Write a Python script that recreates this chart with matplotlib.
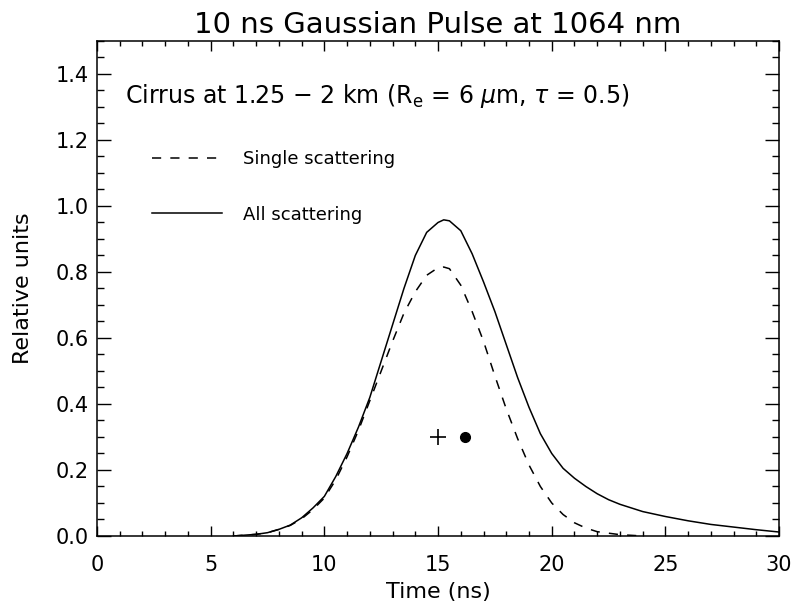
import matplotlib
matplotlib.use("Agg")
import matplotlib.pyplot as plt
from matplotlib.ticker import MultipleLocator, FormatStrFormatter

# values
time_all = [6.0, 7.0, 7.5, 8.0, 8.5, 9.0, 9.5, 10.0, 10.5, 11.0, 11.5, 12.0,
            12.5, 13.0, 13.5, 14.0, 14.5, 15.0, 15.25, 15.5, 16.0, 16.5, 17.0,
            17.5, 18.0, 18.5, 19.0, 19.5, 20.0, 20.5, 21.0, 21.5, 22.0, 22.5,
            23.0, 24.0, 25.0, 26.0, 27.0, 28.0, 29.0, 30.0]
all_scat = [0.0, 0.005, 0.01, 0.02, 0.033, 0.055, 0.085, 0.12, 0.18, 0.25,
            0.33, 0.42, 0.53, 0.64, 0.75, 0.85, 0.92, 0.95, 0.958, 0.955, 0.925,
            0.855, 0.77, 0.68, 0.58, 0.48, 0.39, 0.31, 0.25, 0.205, 0.175, 0.15,
            0.128, 0.11, 0.096, 0.074, 0.059, 0.046, 0.035, 0.027, 0.019, 0.012]

time_single = [6.0, 7.0, 7.5, 8.0, 8.5, 9.0, 9.5, 10.0, 10.5, 11.0, 11.5, 12.0,
               12.5, 13.0, 13.5, 14.0, 14.5, 15.0, 15.25, 15.5, 16.0, 16.5,
               17.0, 17.5, 18.0, 18.5, 19.0, 19.5, 20.0, 20.5, 21.0, 21.5, 22.0,
               23.0, 24.0]
single_scat = [0.0, 0.005, 0.01, 0.02, 0.032, 0.052, 0.08, 0.115, 0.17, 0.24,
               0.32, 0.41, 0.50, 0.59, 0.675, 0.74, 0.79, 0.813, 0.815, 0.81,
               0.76, 0.68, 0.59, 0.485, 0.385, 0.295, 0.215, 0.15, 0.10, 0.065,
               0.04, 0.024, 0.013, 0.004, 0.0]

cross_x, cross_y = [15.0], [0.3]
dot_x, dot_y = [16.2], [0.3]

title = "10 ns Gaussian Pulse at 1064 nm"
note = r"Cirrus at 1.25 $-$ 2 km (R$_{\rm e}$ = 6 $\mu$m, $\tau$ = 0.5)"

plt.rcParams["font.family"] = "DejaVu Sans"

fig = plt.figure(figsize=(7.95, 6.07), dpi=100)
ax = fig.add_axes([0.122, 0.117, 0.858, 0.8155])

ax.plot(time_single, single_scat, color="black", lw=1.1, dashes=(6, 6),
        label="Single scattering")
ax.plot(time_all, all_scat, color="black", lw=1.1, label="All scattering")
ax.plot(cross_x, cross_y, marker="+", ms=11, mew=1.2, color="black", ls="none")
ax.plot(dot_x, dot_y, marker="o", ms=7, color="black", ls="none")

ax.set_xlim(0, 30)
ax.set_ylim(0, 1.5)
ax.xaxis.set_major_locator(MultipleLocator(5))
ax.xaxis.set_minor_locator(MultipleLocator(1))
ax.yaxis.set_major_locator(MultipleLocator(0.2))
ax.yaxis.set_minor_locator(MultipleLocator(0.05))
ax.yaxis.set_major_formatter(FormatStrFormatter("%.1f"))

ax.tick_params(axis="both", which="both", direction="in", top=True, right=True,
               width=1.0, labelsize=15)
ax.tick_params(axis="x", which="major", length=7, pad=14)
ax.tick_params(axis="x", which="minor", length=3.6)
ax.tick_params(axis="y", which="major", length=10, pad=6)
ax.tick_params(axis="y", which="minor", length=5)
for s in ax.spines.values():
    s.set_linewidth(1.1)

ax.set_xlabel("Time (ns)", fontsize=16, labelpad=5)
ax.set_ylabel("Relative units", fontsize=16, labelpad=16)
ax.set_title(title, fontsize=21, pad=6)

ax.text(0.041, 0.889, note, transform=ax.transAxes, fontsize=17,
        va="center", ha="left")

ax.legend(loc="upper left", bbox_to_anchor=(0.0806, 0.78), frameon=False,
          fontsize=13, handlelength=3.9, handletextpad=1.16, labelspacing=2.1,
          borderpad=0, borderaxespad=0)

fig.savefig("out.png", dpi=100)
